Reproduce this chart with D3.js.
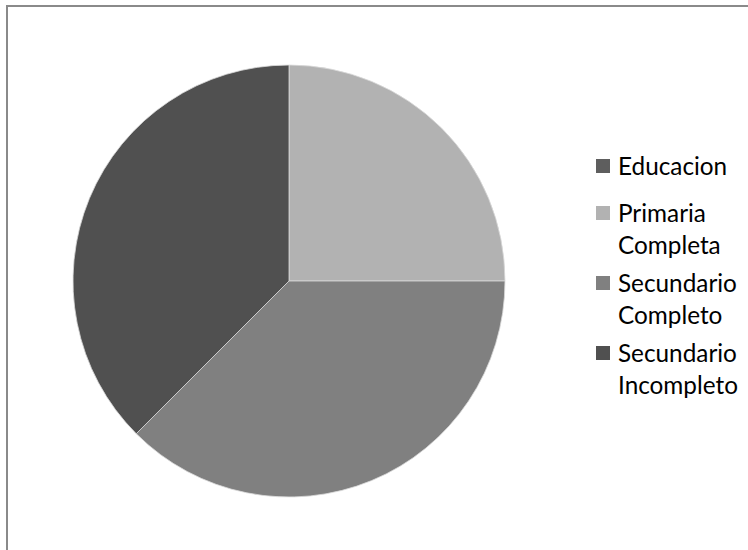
<!DOCTYPE html>
<html>
<head>
<meta charset="utf-8">
<script src="https://cdn.jsdelivr.net/npm/d3@7"></script>
<style>
  html, body { margin: 0; padding: 0; background: #fff; }
  svg { display: block; }
</style>
</head>
<body>
<div id="chart"></div>
<script>
// data
var categories = ["Educacion", "Primaria Completa", "Secundario Completo", "Secundario Incompleto"];
var values = [0, 2, 3, 3];
var colors = ["#5e5e5e", "#b2b2b2", "#808080", "#505050"];
var legendLines = [["Educacion"], ["Primaria", "Completa"], ["Secundario", "Completo"], ["Secundario", "Incompleto"]];

var width = 748;
var height = 550;
var cx = 289, cy = 281, radius = 216;

var svg = d3.select("#chart").append("svg")
  .attr("width", width)
  .attr("height", height);

// chart area border (only top and left are in frame)
svg.append("rect")
  .attr("x", 7)
  .attr("y", 6)
  .attr("width", 900)
  .attr("height", 700)
  .attr("fill", "none")
  .attr("stroke", "#8a8a8a")
  .attr("stroke-width", 2);

var color = d3.scaleOrdinal().domain(categories).range(colors);

var pie = d3.pie()
  .sort(null)
  .value(function(d, i) { return values[i]; });

var arc = d3.arc()
  .innerRadius(0)
  .outerRadius(radius);

var g = svg.append("g")
  .attr("transform", "translate(" + cx + "," + cy + ")");

g.selectAll("path.slice")
  .data(pie(categories))
  .enter().append("path")
  .attr("class", "slice")
  .attr("d", arc)
  .attr("fill", function(d) { return color(d.data); })
  .attr("stroke", function(d) { return d.value > 0 ? "#d9d9d9" : "none"; })
  .attr("stroke-width", 0.8);

// legend
var fontFamily = "Lato, 'Open Sans', sans-serif";
var probe = svg.append("text")
  .attr("font-family", fontFamily)
  .attr("font-size", 100)
  .text("Incompleto");
var fontSize = 100 * 120 / probe.node().getComputedTextLength();
probe.remove();

var legendY = [166, 213, 283, 353];
var lineH = 32;

var legend = svg.append("g").attr("class", "legend");

var item = legend.selectAll("g.item")
  .data(categories)
  .enter().append("g")
  .attr("class", "item")
  .attr("transform", function(d, i) { return "translate(0," + legendY[i] + ")"; });

item.append("rect")
  .attr("x", 596)
  .attr("y", -7)
  .attr("width", 14)
  .attr("height", 14)
  .attr("fill", function(d) { return color(d); });

item.append("text")
  .attr("font-family", fontFamily)
  .attr("font-size", fontSize)
  .attr("fill", "#000")
  .selectAll("tspan")
  .data(function(d, i) { return legendLines[i]; })
  .enter().append("tspan")
  .attr("x", 618)
  .attr("y", function(d, j) { return j * lineH; })
  .attr("dy", "0.36em")
  .text(function(d) { return d; });
</script>
</body>
</html>
